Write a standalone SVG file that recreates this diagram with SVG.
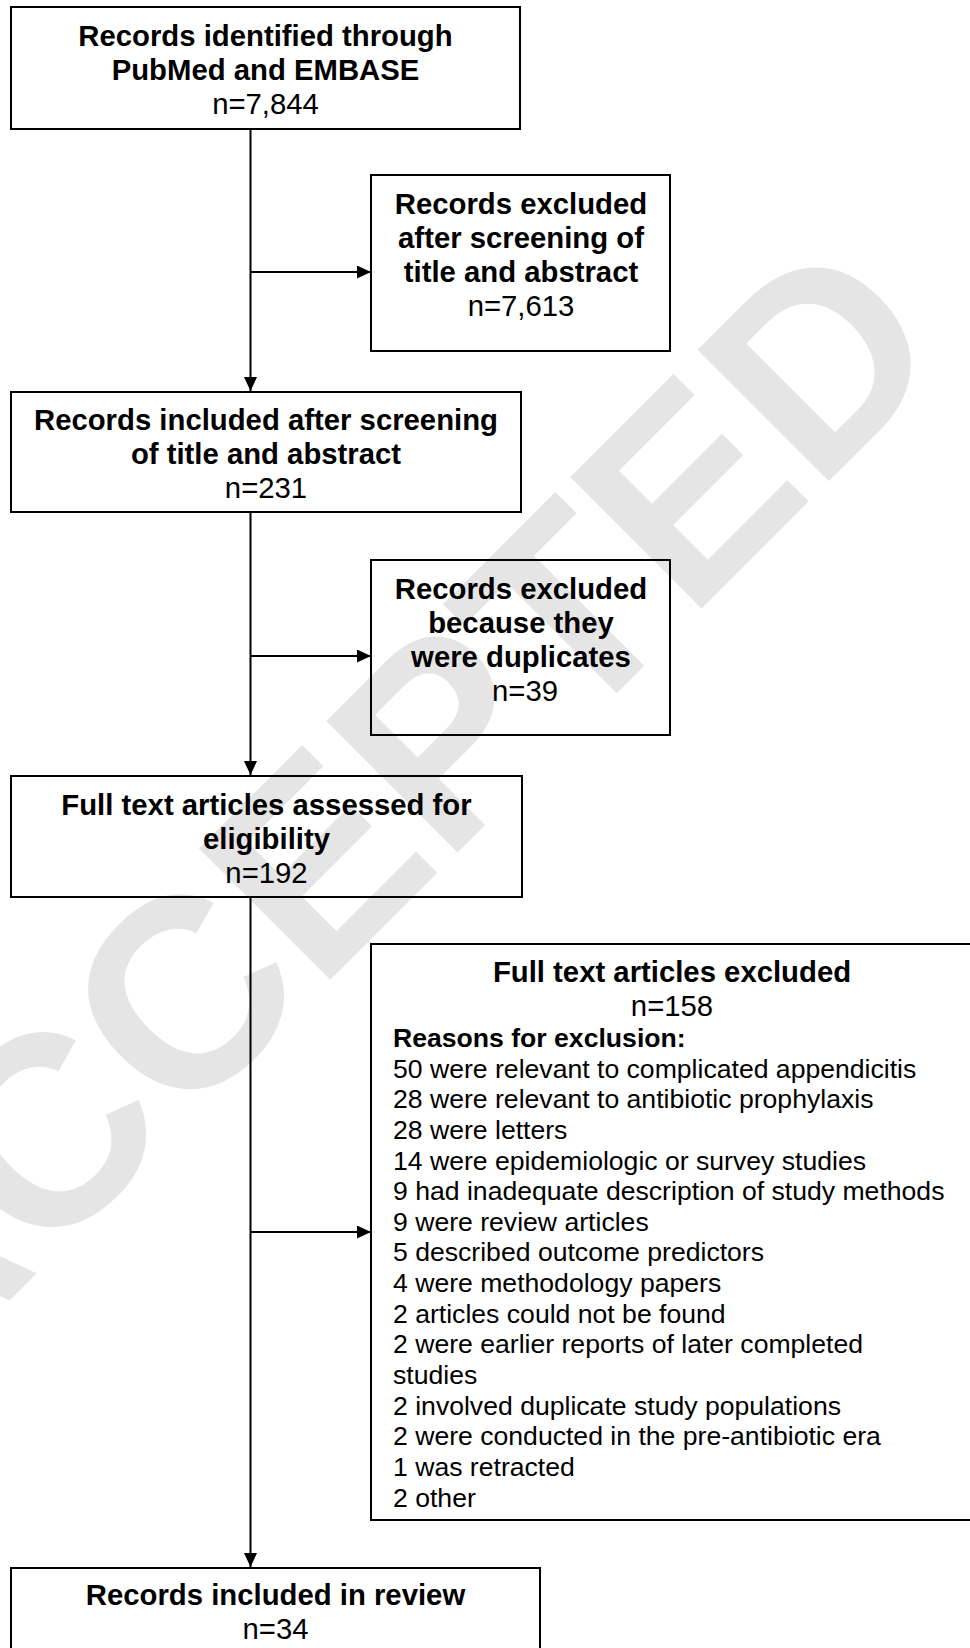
<svg xmlns="http://www.w3.org/2000/svg" width="970" height="1648" viewBox="0 0 970 1648">
<style>
.box{fill:none;stroke:#000;stroke-width:2}
.b{font-family:"Liberation Sans",Arial,sans-serif;font-weight:bold;font-size:29.3px;fill:#000;text-anchor:middle}
.n{font-family:"Liberation Sans",Arial,sans-serif;font-size:29.3px;fill:#000;text-anchor:middle}
.l{font-family:"Liberation Sans",Arial,sans-serif;font-size:26.6px;fill:#000}
.lb{font-family:"Liberation Sans",Arial,sans-serif;font-size:26.6px;font-weight:bold;fill:#000}
.wm{font-family:"Liberation Sans",Arial,sans-serif;font-weight:bold;font-size:270px;fill:#e5e5e5;text-anchor:middle}
.c{fill:none;stroke:#000;stroke-width:2}
</style>
<defs>
<marker id="ah" markerUnits="userSpaceOnUse" markerWidth="14" markerHeight="14" refX="14" refY="6.5" orient="auto">
<path d="M0,0 L14,6.5 L0,13 z" fill="#000"/>
</marker>
</defs>
<rect width="970" height="1648" fill="#fff"/>
<g id="watermark" transform="translate(360.5,812.7) rotate(-45)">
<text class="wm" x="0" y="96.7">ACCEPTED</text>
</g>
<g id="connectors">
<line class="c" x1="250.5" y1="129" x2="250.5" y2="391" marker-end="url(#ah)"/>
<line class="c" x1="250.5" y1="272" x2="371" y2="272" marker-end="url(#ah)"/>
<line class="c" x1="250.5" y1="512" x2="250.5" y2="775" marker-end="url(#ah)"/>
<line class="c" x1="250.5" y1="656" x2="371" y2="656" marker-end="url(#ah)"/>
<line class="c" x1="250.5" y1="897" x2="250.5" y2="1567" marker-end="url(#ah)"/>
<line class="c" x1="250.5" y1="1232" x2="371" y2="1232" marker-end="url(#ah)"/>
</g>
<g id="identified">
<rect class="box" x="11" y="7" width="509" height="122"/>
<text class="b" x="265.5" y="45.5">Records identified through</text>
<text class="b" x="265.5" y="79.5">PubMed and EMBASE</text>
<text class="n" x="265.5" y="113.5">n=7,844</text>
</g>
<g id="excluded-screening">
<rect class="box" x="371" y="175" width="299" height="176"/>
<text class="b" x="521" y="213.5">Records excluded</text>
<text class="b" x="521" y="247.5">after screening of</text>
<text class="b" x="521" y="281.5">title and abstract</text>
<text class="n" x="521" y="316">n=7,613</text>
</g>
<g id="included-screening">
<rect class="box" x="11" y="392" width="510" height="120"/>
<text class="b" x="266" y="430">Records included after screening</text>
<text class="b" x="266" y="464">of title and abstract</text>
<text class="n" x="266" y="498">n=231</text>
</g>
<g id="excluded-duplicates">
<rect class="box" x="371" y="560" width="299" height="175"/>
<text class="b" x="521" y="598.5">Records excluded</text>
<text class="b" x="521" y="632.5">because they</text>
<text class="b" x="521" y="666.5">were duplicates</text>
<text class="n" x="525" y="701">n=39</text>
</g>
<g id="assessed">
<rect class="box" x="11" y="776" width="511" height="121"/>
<text class="b" x="266.5" y="814.5">Full text articles assessed for</text>
<text class="b" x="266.5" y="848.5">eligibility</text>
<text class="n" x="266.5" y="882.5">n=192</text>
</g>
<g id="excluded-fulltext">
<rect class="box" x="371" y="944" width="602" height="576"/>
<text class="b" x="672" y="982">Full text articles excluded</text>
<text class="n" x="672" y="1016">n=158</text>
<text class="lb" x="393" y="1047">Reasons for exclusion:</text>
<text class="l" x="393" y="1077.5">50 were relevant to complicated appendicitis</text>
<text class="l" x="393" y="1108.2">28 were relevant to antibiotic prophylaxis</text>
<text class="l" x="393" y="1138.8">28 were letters</text>
<text class="l" x="393" y="1169.5">14 were epidemiologic or survey studies</text>
<text class="l" x="393" y="1200.1">9 had inadequate description of study methods</text>
<text class="l" x="393" y="1230.8">9 were review articles</text>
<text class="l" x="393" y="1261.4">5 described outcome predictors</text>
<text class="l" x="393" y="1292.1">4 were methodology papers</text>
<text class="l" x="393" y="1322.7">2 articles could not be found</text>
<text class="l" x="393" y="1353.4">2 were earlier reports of later completed</text>
<text class="l" x="393" y="1384">studies</text>
<text class="l" x="393" y="1414.7">2 involved duplicate study populations</text>
<text class="l" x="393" y="1445.3">2 were conducted in the pre-antibiotic era</text>
<text class="l" x="393" y="1476">1 was retracted</text>
<text class="l" x="393" y="1506.6">2 other</text>
</g>
<g id="included-review">
<rect class="box" x="11" y="1568" width="529" height="100"/>
<text class="b" x="275.5" y="1605">Records included in review</text>
<text class="n" x="275.5" y="1639">n=34</text>
</g>
</svg>
